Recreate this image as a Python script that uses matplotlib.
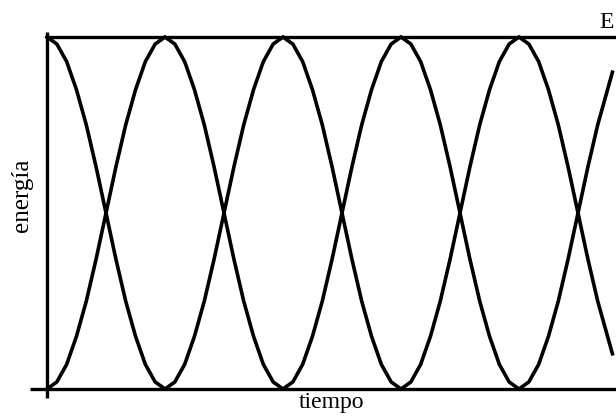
import matplotlib
matplotlib.use("Agg")
import matplotlib.pyplot as plt

plt.rcParams['font.family'] = ['Liberation Serif', 'DejaVu Serif']

# sample times (arbitrary units, 1/24 of an exchange cycle per step of 0.25)
tiempo = [i * 0.25 for i in range(58)] + [14.375]

# potential energy share (starts at the top)
e_potencial = [
    1.00, 0.98, 0.93, 0.85, 0.75, 0.63, 0.50, 0.37, 0.25, 0.15, 0.07, 0.02,
    0.00, 0.02, 0.07, 0.15, 0.25, 0.37, 0.50, 0.63, 0.75, 0.85, 0.93, 0.98,
    1.00, 0.98, 0.93, 0.85, 0.75, 0.63, 0.50, 0.37, 0.25, 0.15, 0.07, 0.02,
    0.00, 0.02, 0.07, 0.15, 0.25, 0.37, 0.50, 0.63, 0.75, 0.85, 0.93, 0.98,
    1.00, 0.98, 0.93, 0.85, 0.75, 0.63, 0.50, 0.37, 0.25, 0.15, 0.10,
]

# kinetic energy share (starts at zero)
e_cinetica = [
    0.00, 0.02, 0.07, 0.15, 0.25, 0.37, 0.50, 0.63, 0.75, 0.85, 0.93, 0.98,
    1.00, 0.98, 0.93, 0.85, 0.75, 0.63, 0.50, 0.37, 0.25, 0.15, 0.07, 0.02,
    0.00, 0.02, 0.07, 0.15, 0.25, 0.37, 0.50, 0.63, 0.75, 0.85, 0.93, 0.98,
    1.00, 0.98, 0.93, 0.85, 0.75, 0.63, 0.50, 0.37, 0.25, 0.15, 0.07, 0.02,
    0.00, 0.02, 0.07, 0.15, 0.25, 0.37, 0.50, 0.63, 0.75, 0.85, 0.90,
]

# total energy
E_total = 1.0

W, H = 616, 419
fig = plt.figure(figsize=(W / 100, H / 100), dpi=100)
ax = fig.add_axes([47 / W, (H - 389) / H, (616 - 47) / W, (389 - 37) / H])

t_end = (616 - 47) / (236 / 6.0)
ax.set_xlim(0, t_end)
ax.set_ylim(0, E_total)

lw = 2.4
ax.plot(tiempo, e_potencial, color='black', lw=2.6, clip_on=False,
        solid_joinstyle='miter')
ax.plot(tiempo, e_cinetica, color='black', lw=2.6, clip_on=False,
        solid_joinstyle='miter')
ax.axhline(E_total, color='black', lw=lw, clip_on=False)

for s in ax.spines.values():
    s.set_visible(False)
ax.set_xticks([])
ax.set_yticks([])

# axis lines crossing slightly past the origin
x_over = 17 / (616 - 47)
y_over = 9 / (389 - 37)
ax.plot([-x_over, 1], [0, 0], transform=ax.transAxes, color='black',
        lw=lw, clip_on=False, solid_capstyle='butt')
ax.plot([0, 0], [-y_over, 1 + 5 / (389 - 37)], transform=ax.transAxes,
        color='black', lw=lw, clip_on=False, solid_capstyle='butt')

fs = 17
ax.text(0.9965, 1.025, 'E', transform=ax.transAxes, ha='right', va='baseline',
        fontsize=fs)
ax.set_xlabel('tiempo', fontsize=fs, labelpad=2)
ax.set_ylabel('energía', fontsize=18)
ax.yaxis.set_label_coords(-14 / (616 - 47), 0.55)

fig.savefig('out.png', dpi=100)
